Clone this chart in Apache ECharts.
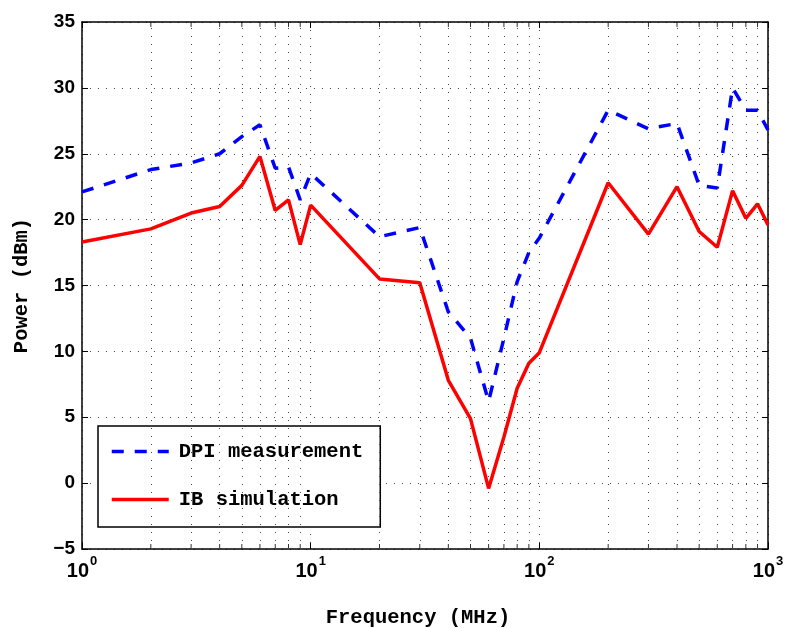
<!DOCTYPE html>
<html>
<head>
<meta charset="utf-8">
<script src="https://cdn.jsdelivr.net/npm/echarts@6/dist/echarts.min.js"></script>
<style>html,body{margin:0;padding:0;background:#fff;}#chart{width:785px;height:628px;}</style>
</head>
<body>
<div id="chart"></div>
<script>
var freq = [1,2,3,4,5,6,7,8,9,10,20,30,40,50,60,70,80,90,100,200,300,400,500,600,700,800,900,1000];
var dpiMeasurement = [22.1,23.8,24.3,25.0,26.3,27.2,23.9,24.0,21.5,23.5,18.7,19.4,13.0,11.0,6.2,11.0,15.3,17.5,18.6,28.3,26.9,27.3,22.6,22.4,30.0,28.3,28.3,26.8];
var ibSimulation = [18.3,19.3,20.5,21.0,22.6,24.8,20.7,21.5,18.1,21.1,15.5,15.2,7.8,4.9,-0.4,3.5,7.2,9.1,9.9,22.8,18.9,22.5,19.1,17.9,22.2,20.1,21.2,19.6];
var minorX = [2,3,4,5,6,7,8,9,20,30,40,50,60,70,80,90,200,300,400,500,600,700,800,900];
var yMin = -5, yMax = 35, yStep = 5;
var seriesNames = ['DPI measurement', 'IB simulation'];

var chart = echarts.init(document.getElementById('chart'), null, {renderer: 'canvas'});
var mono = '"Liberation Mono", "DejaVu Sans Mono", monospace';
var sans = '"Liberation Sans", Arial, sans-serif';
var gridDot = {color: '#444', width: 1, type: [1, 7]};
var blackLine = {show: true, onZero: false, lineStyle: {color: '#000', width: 1.5}};

var option = {
  animation: false,
  backgroundColor: '#fff',
  grid: {left: 82, right: 17, top: 22, bottom: 79, containLabel: false, outerBoundsMode: 'none'},
  legend: {
    data: seriesNames,
    orient: 'vertical',
    left: 98, top: 426,
    itemWidth: 57, itemHeight: 20, itemGap: 27,
    padding: [15, 17, 17, 12],
    borderColor: '#000', borderWidth: 1.5,
    backgroundColor: '#fff',
    itemStyle: {opacity: 0},
    lineStyle: {width: 3.5},
    textStyle: {fontFamily: mono, fontWeight: 'bold', fontSize: 20.5, color: '#000', padding: [0, 0, 0, 5]}
  },
  xAxis: [{
    type: 'log', logBase: 10, min: 1, max: 1000,
    name: 'Frequency (MHz)', nameLocation: 'middle', nameGap: 58,
    nameTextStyle: {fontFamily: mono, fontWeight: 'bold', fontSize: 20.5, color: '#000', padding: [0, 14, 0, 0]},
    axisLine: blackLine,
    axisTick: {show: true, inside: true, length: 6, lineStyle: {color: '#000', width: 1}},
    splitLine: {show: true, lineStyle: gridDot},
    minorTick: {show: false}, minorSplitLine: {show: false},
    axisLabel: {
      margin: 6,
      formatter: function (v) { return '{a|10}{b|' + Math.round(Math.log10(v)) + '}'; },
      rich: {
        a: {fontFamily: sans, fontWeight: 'bold', fontSize: 20, color: '#000', verticalAlign: 'bottom', lineHeight: 26},
        b: {fontFamily: sans, fontWeight: 'bold', fontSize: 13, color: '#000', verticalAlign: 'top', lineHeight: 26, padding: [0, 0, 0, 1]}
      }
    }
  }, {
    type: 'log', logBase: 10, min: 1, max: 1000, position: 'top',
    axisLine: blackLine,
    axisTick: {show: true, inside: true, length: 6, lineStyle: {color: '#000', width: 1}},
    axisLabel: {show: false}, splitLine: {show: false}
  }],
  yAxis: [{
    type: 'value', min: yMin, max: yMax, interval: yStep,
    name: 'Power (dBm)', nameLocation: 'middle', nameGap: 50,
    nameTextStyle: {fontFamily: mono, fontWeight: 'bold', fontSize: 20.5, color: '#000'},
    axisLine: blackLine,
    axisTick: {show: true, inside: true, length: 6, lineStyle: {color: '#000', width: 1}},
    splitLine: {show: true, lineStyle: gridDot},
    axisLabel: {
      fontFamily: sans, fontWeight: 'bold', fontSize: 19, color: '#000', margin: 7,
      formatter: function (v) { return String(v).replace('-', '\u2212'); }
    }
  }, {
    type: 'value', min: yMin, max: yMax, interval: yStep, position: 'right',
    axisLine: blackLine,
    axisTick: {show: true, inside: true, length: 6, lineStyle: {color: '#000', width: 1}},
    splitLine: {show: false}, axisLabel: {show: false}
  }],
  series: [
    {
      name: 'gridMinor', type: 'line', data: [], silent: true,
      markLine: {
        silent: true, symbol: 'none', label: {show: false},
        lineStyle: gridDot,
        data: minorX.map(function (x) { return {xAxis: x}; })
      }
    },
    {
      name: 'ticksBottom', type: 'scatter', silent: true, symbol: 'rect', symbolSize: [1, 5], symbolOffset: [0, -2.5],
      itemStyle: {color: '#000'}, data: minorX.map(function (x) { return [x, yMin]; })
    },
    {
      name: 'ticksTop', type: 'scatter', silent: true, symbol: 'rect', symbolSize: [1, 5], symbolOffset: [0, 2.5],
      itemStyle: {color: '#000'}, data: minorX.map(function (x) { return [x, yMax]; })
    },
    {
      name: seriesNames[1], type: 'line', symbol: 'none', showSymbol: false,
      data: freq.map(function (f, i) { return [f, ibSimulation[i]]; }),
      lineStyle: {color: '#ff0000', width: 3.5, type: 'solid'},
      itemStyle: {color: '#ff0000'}
    },
    {
      name: seriesNames[0], type: 'line', symbol: 'none', showSymbol: false,
      data: freq.map(function (f, i) { return [f, dpiMeasurement[i]]; }),
      lineStyle: {color: '#0000ff', width: 3.5, type: [12, 11], cap: 'butt'},
      itemStyle: {color: '#0000ff'}
    }
  ]
};
chart.setOption(option);
</script>
</body>
</html>
